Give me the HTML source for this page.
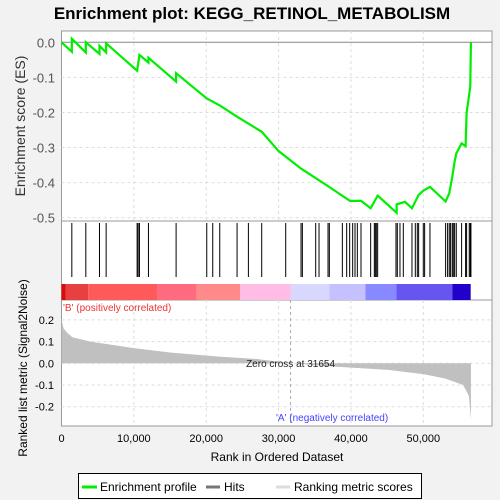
<!DOCTYPE html>
<html><head><meta charset="utf-8"><style>
body{margin:0;background:#f2f2f2;font-family:"Liberation Sans",sans-serif}
svg{display:block}
</style></head><body>
<svg id="c" width="500" height="500" xmlns="http://www.w3.org/2000/svg">
<rect width="500" height="500" fill="#f2f2f2"/>
<text x="252" y="19" text-anchor="middle" font-size="17" font-weight="bold" fill="#000">Enrichment plot: KEGG_RETINOL_METABOLISM</text>
<g id="g"></g>
</svg>
<script>
const esRanks=[0,1427,1427,3361,3361,5249,5249,6170,6170,10451,10773,12016,12016,15838,15838,20073,21869,24263,27670,30000,33103,36832,39870,41400,42725,43692,46316,46316,47467,48434,49355,50000,50920,53084,53590,54005,54327,54557,55294,55846,55984,56490,56582];
const esValues=[0,-0.027,0.01,-0.029,0,-0.033,-0.01,-0.029,-0.003,-0.081,-0.036,-0.058,-0.044,-0.112,-0.088,-0.16,-0.18,-0.212,-0.255,-0.31,-0.36,-0.41,-0.452,-0.452,-0.473,-0.437,-0.486,-0.462,-0.455,-0.473,-0.435,-0.423,-0.412,-0.454,-0.43,-0.383,-0.34,-0.317,-0.288,-0.296,-0.202,-0.126,0];
const hitRanks=[1427,3361,5249,6169,10451,10589,10773,12016,15838,20073,20902,21869,24263,25828,27670,30985,33103,33287,35129,35589,36832,37016,38812,39410,39825,40239,40561,40884,41390,42725,43232,43370,43508,43692,46224,46408,46776,47237,48434,48894,49171,49355,50000,50184,50920,53084,53360,53590,53774,54005,54143,54327,54557,55294,55846,55984,56352,56490,56582];
const metricRanks=[0,300,800,1500,4000,10000,15000,22000,27000,31654,37500,45000,50000,53000,55500,56300,56582];
const metricValues=[0.2,0.16,0.14,0.12,0.1,0.07,0.05,0.03,0.02,0,-0.015,-0.03,-0.05,-0.07,-0.1,-0.15,-0.26];
const bandStarts=[0,600,3700,13200,18700,24700,31700,37000,42000,46300,54000,56500];
const bandColors=["#dd0a0a","#e84040","#ff5a5a","#ff6b7e","#ff8a8a","#ffbde6","#d8d8ff","#c6c0ff","#8888ff","#6655ee","#2200cc","#6a2ab0"];
const xTicks=[0,10000,20000,30000,40000,50000];
const esTicks=[0,-0.1,-0.2,-0.3,-0.4,-0.5];
const mTicks=[0.2,0.1,0,-0.1,-0.2];
const L=61.5,R=492,N=56582;
const X=r=>L+r*(423.3-61.5)/50000;
const YE=v=>42.3-v*350.8;
const YM=v=>363.3-v*217;
const g=document.getElementById('g');
const NS='http://www.w3.org/2000/svg';
function mk(t,a,p){const e=document.createElementNS(NS,t);for(const k in a)e.setAttribute(k,a[k]);(p||g).appendChild(e);return e;}
let e;
e=mk('rect',{x:L,y:31,width:R-L,height:190,fill:'#fff',stroke:'#999'});


e=mk('rect',{x:L,y:221,width:R-L,height:79,fill:'#fff',stroke:'#999'});


e=mk('rect',{x:L,y:300,width:R-L,height:126,fill:'#fff',stroke:'#999'});


xTicks.forEach(t=>{if(t>0){[[31,221],[300,426]].forEach(([a,b])=>{e=mk('line',{x1:X(t),x2:X(t),y1:a,y2:b,stroke:'#ddd','stroke-dasharray':'3,3'});

});}});
esTicks.forEach(t=>{e=mk('line',{x1:L,x2:R,y1:YE(t),y2:YE(t),stroke:t===0?'#888':'#ddd','stroke-dasharray':t===0?'':'3,3'});


e=mk('text',{x:55,y:YE(t)+5,'text-anchor':'end','font-size':13,fill:'#555'});e.textContent=t===0?'0.0':t.toFixed(1);

});
mTicks.forEach(t=>{e=mk('line',{x1:L,x2:R,y1:YM(t),y2:YM(t),stroke:'#ddd','stroke-dasharray':'3,3'});


e=mk('text',{x:54,y:YM(t)+4,'text-anchor':'end','font-size':11,fill:'#000'});e.textContent=t===0?'0.0':t.toFixed(1);

});
xTicks.forEach(t=>{e=mk('text',{x:X(t),y:442,'text-anchor':'middle','font-size':11,fill:'#000'});e.textContent=t.toLocaleString('en-US');

});
for(let i=0;i<bandStarts.length;i++){const a=bandStarts[i],b=i+1<bandStarts.length?bandStarts[i+1]:N;
e=mk('rect',{x:X(a),y:284,width:X(b)-X(a),height:16,fill:bandColors[i]});

}
hitRanks.forEach(r=>{e=mk('line',{x1:X(r),x2:X(r),y1:223,y2:277,stroke:'#000','stroke-width':1});

});
let d='M'+X(0)+','+YM(0);metricRanks.forEach((r,i)=>d+=' L'+X(r)+','+YM(metricValues[i]));d+=' L'+X(N)+','+YM(0)+'Z';
e=mk('path',{d:d,fill:'#c0c0c0'});


e=mk('line',{x1:X(31654),x2:X(31654),y1:300,y2:426,stroke:'#aaa','stroke-dasharray':'3,3'});


e=mk('text',{x:X(31654),y:367,'text-anchor':'middle','font-size':10,fill:'#222'});e.textContent='Zero cross at 31654';


e=mk('text',{x:63,y:311,'font-size':10,fill:'#e33'});e.textContent="'B' (positively correlated)";


e=mk('text',{x:276,y:421,'font-size':10,fill:'#44f'});e.textContent="'A' (negatively correlated)";


e=mk('polyline',{points:esRanks.map((r,i)=>X(r)+','+YE(esValues[i])).join(' '),fill:'none',stroke:'#00ee00','stroke-width':2.2});


e=mk('text',{x:0,y:0,transform:'translate(25,126) rotate(-90)','text-anchor':'middle','font-size':14,fill:'#333'});e.textContent='Enrichment score (ES)';


e=mk('text',{x:0,y:0,transform:'translate(27,368) rotate(-90)','text-anchor':'middle','font-size':12,fill:'#000'});e.textContent='Ranked list metric (Signal2Noise)';


e=mk('text',{x:277,y:461,'text-anchor':'middle','font-size':12,fill:'#000'});e.textContent='Rank in Ordered Dataset';


e=mk('rect',{x:78.5,y:473.5,width:343,height:25,fill:'#fff',stroke:'#000'});


e=mk('line',{x1:82,x2:97,y1:487,y2:487,stroke:'#00ee00','stroke-width':3});


e=mk('text',{x:100,y:491,'font-size':12,fill:'#000'});e.textContent='Enrichment profile';


e=mk('line',{x1:206,x2:220,y1:487,y2:487,stroke:'#777','stroke-width':3});


e=mk('text',{x:224,y:491,'font-size':12,fill:'#000'});e.textContent='Hits';


e=mk('line',{x1:276,x2:290,y1:487,y2:487,stroke:'#ddd','stroke-width':3});


e=mk('text',{x:294,y:491,'font-size':12,fill:'#000'});e.textContent='Ranking metric scores';


</script>
</body></html>
